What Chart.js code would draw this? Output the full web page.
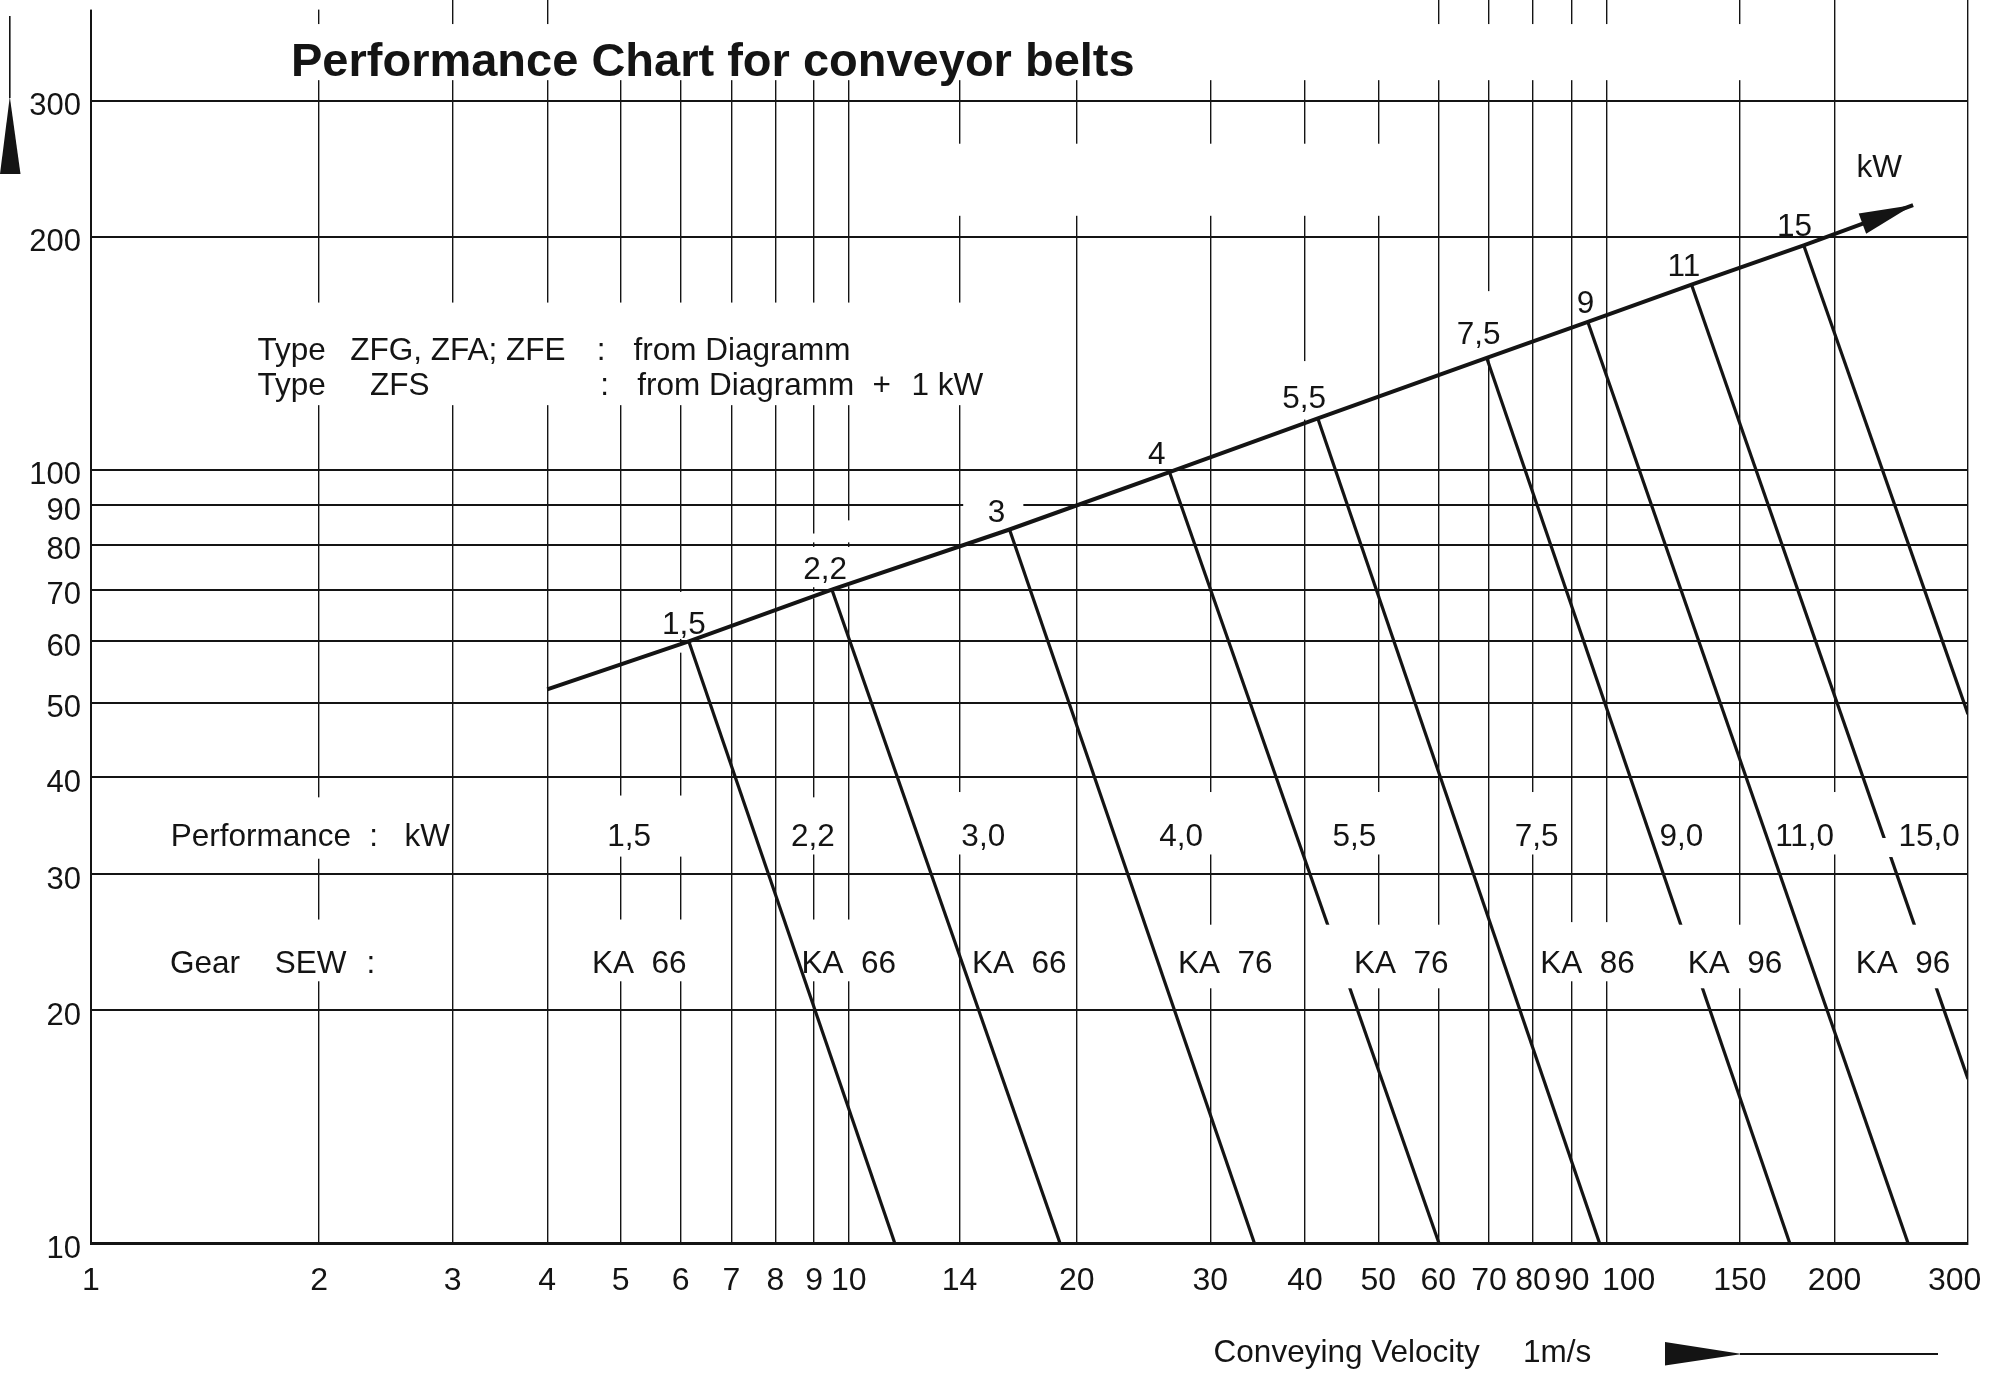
<!DOCTYPE html>
<html>
<head>
<meta charset="utf-8">
<script src="https://cdn.jsdelivr.net/npm/chart.js@4.4.1/dist/chart.umd.min.js"></script>
<style>
  html, body { margin: 0; padding: 0; background: #ffffff; }
  #wrap { width: 2000px; height: 1374px; position: relative; }
</style>
</head>
<body>
<div id="wrap"><canvas id="chart"></canvas></div>
<script>
// ---------------- data ----------------
const X_TICKS = [1, 2, 3, 4, 5, 6, 7, 8, 9, 10, 14, 20, 30, 40, 50, 60, 70, 80, 90, 100, 150, 200, 300];
const X_TICK_LABELS = ['1', '2', '3', '4', '5', '6', '7', '8', '9', '10', '14', '20', '30', '40', '50', '60', '70', '80', '90', '100', '150', '200', '300'];
const Y_TICKS = [10, 20, 30, 40, 50, 60, 70, 80, 90, 100, 200, 300];
const Y_TICK_LABELS = ['10', '20', '30', '40', '50', '60', '70', '80', '90', '100', '200', '300'];

// motor ratings (kW) along the envelope line
const RATINGS = ['1,5', '2,2', '3', '4', '5,5', '7,5', '9', '11', '15'];
// node where each rating line leaves the envelope (velocity, load)
const NODE_VELOCITY = [6.15, 9.5, 16.3, 26.5, 41.6, 69.5, 94.5, 129.5, 182.1];
const NODE_LOAD = [60, 70, 83.7, 99.3, 116.5, 139.5, 155.3, 173.5, 195.1];
// end of each rating line (bottom axis or right border)
const END_VELOCITY = [11.5, 19.0, 34.3, 60.1, 97.9, 174.5, 250, 300, 300];
const END_LOAD = [10, 10, 10, 10, 10, 10, 10, 16.3, 48.3];
// envelope start and arrow tip
const ENVELOPE_START = [4, 52];
const ENVELOPE_TIP = [253.9, 219.9];

const PERF_LABELS = ['1,5', '2,2', '3,0', '4,0', '5,5', '7,5', '9,0', '11,0', '15,0'];
const GEAR_LABELS = ['KA  66', 'KA  66', 'KA  66', 'KA  76', 'KA  76', 'KA  86', 'KA  96', 'KA  96'];

// ---------------- layout / style ----------------
const INK = '#141414';
const FONT = "'Liberation Sans', Arial, Helvetica, sans-serif";
const TXT = 31.5;
// small horizontal nudges of crowded tick labels (spaces keep the label centred off its tick)
const X_LABEL_PAD = { '100': ['     ', ''], '300': ['', '   '] };

// label anchors in data units (velocity, load) — cap-centre positions
const NODE_LABEL_POS = [[6.06, 63.5], [9.31, 74.8], [15.67, 88.4], [25.5, 105.3], [39.9, 124.1], [67.8, 150.2], [93.8, 165], [126.5, 184], [177.1, 207.7]];
const PERF_ROW = { load: 33.7, at: [5.13, 8.97, 15.05, 27.45, 46.5, 80.9, 125.6, 182.6, 266.6] };
const GEAR_ROW = { load: 23.1, at: [5.29, 10.0, 16.79, 31.4, 53.6, 94.4, 147.8, 246.3] };
const NOTES = [
  ['Type', 1.658, 143.5], ['ZFG, ZFA; ZFE', 2.198, 143.5], [':', 4.65, 143.5], ['from Diagramm', 5.2, 143.5],
  ['Type', 1.658, 129.0], ['ZFS', 2.334, 129.0], [':', 4.7, 129.0], ['from Diagramm', 5.26, 129.0], ['+', 10.75, 129.0], ['1 kW', 12.1, 129.0],
  ['Performance', 1.274, 33.7], [':', 2.33, 33.7], ['kW', 2.592, 33.7],
  ['Gear', 1.271, 23.1], ['SEW', 1.748, 23.1], [':', 2.309, 23.1]
];

// interruptions of vertical grid lines (gridline value, load from, load to)
const GRID_GAPS = [];
[1, 2].forEach(v => GRID_GAPS.push([v, 393.6, 5000]));
[2, 3, 4, 60, 70, 80, 90, 100, 150].forEach(v => GRID_GAPS.push([v, 319, 377]));
[5, 6, 7, 8, 9, 10, 14, 20, 30, 40, 50].forEach(v => GRID_GAPS.push([v, 319, 5000]));
[14, 20, 30, 40, 50].forEach(v => GRID_GAPS.push([v, 213, 264]));
[2, 3, 4, 5, 6, 7, 8, 9, 10, 14].forEach(v => GRID_GAPS.push([v, 121.2, 164.5]));
GRID_GAPS.push([40, 116.1, 138.2], [70, 139.5, 170.2], [6, 58, 69.5], [9, 68.2, 82.7], [10, 70.7, 86.0]);
GRID_GAPS.push([2, 31.4, 37.7], [5, 31.6, 37.9], [6, 31.6, 37.9], [9, 31.8, 37.7]);
[14, 30, 50, 80, 200].forEach(v => GRID_GAPS.push([v, 31.8, 38.3]));
[2, 5, 6, 9, 10].forEach(v => GRID_GAPS.push([v, 21.8, 26.2]));
GRID_GAPS.push([30, 21.35, 25.8], [90, 21.8, 26.0], [100, 21.8, 26.0]);
// interruption of horizontal grid line (value, velocity from, velocity to)
const H_GAPS = [[90, 14.16, 17.0]];
// white label boxes drawn over the rating lines (vel lo, vel hi, load lo, load hi)
const OVER_BOXES = [[42.5, 63.0, 21.35, 25.8], [124, 174, 21.35, 25.8], [208.6, 294.4, 21.35, 25.8], [230.4, 294.6, 31.56, 33.4]];

// ---------------- datasets ----------------
const datasets = [];
const envelope = [{ x: ENVELOPE_START[0], y: ENVELOPE_START[1] }];
NODE_VELOCITY.forEach((v, i) => envelope.push({ x: v, y: NODE_LOAD[i] }));
envelope.push({ x: ENVELOPE_TIP[0], y: ENVELOPE_TIP[1] });
datasets.push({ label: 'envelope', data: envelope, showLine: true, borderColor: INK, borderWidth: 4, pointRadius: 0, fill: false, tension: 0 });
RATINGS.forEach((r, i) => {
  datasets.push({
    label: r + ' kW',
    data: [{ x: NODE_VELOCITY[i], y: NODE_LOAD[i] }, { x: END_VELOCITY[i], y: END_LOAD[i] }],
    showLine: true, borderColor: INK, borderWidth: 3.2, pointRadius: 0, fill: false, tension: 0
  });
});

function text(ctx, s, x, yc, size, align, bold) {
  ctx.font = (bold ? 'bold ' : '') + size + 'px ' + FONT;
  ctx.textAlign = align;
  ctx.textBaseline = 'alphabetic';
  ctx.fillStyle = INK;
  ctx.fillText(s, x, yc + 0.358 * size);
}

const decor = {
  id: 'decor',
  beforeDatasetsDraw(chart) {
    const ctx = chart.ctx, xs = chart.scales.x, ys = chart.scales.y;
    const hl = Y_TICKS.map(v => ys.getPixelForValue(v));
    ctx.save();
    ctx.fillStyle = '#ffffff';
    GRID_GAPS.forEach(([v, lo, hi]) => {
      const x = xs.getPixelForValue(v);
      let segs = [[Math.max(-5, ys.getPixelForValue(hi)), ys.getPixelForValue(lo)]];
      hl.forEach(h => {
        const out = [];
        segs.forEach(([a, b]) => {
          if (h + 2.3 <= a || h - 2.3 >= b) { out.push([a, b]); return; }
          if (h - 2.3 > a) out.push([a, h - 2.3]);
          if (h + 2.3 < b) out.push([h + 2.3, b]);
        });
        segs = out;
      });
      segs.forEach(([a, b]) => ctx.fillRect(x - 3, a, 6, b - a));
    });
    H_GAPS.forEach(([val, v0, v1]) => {
      const y = ys.getPixelForValue(val);
      const x0 = xs.getPixelForValue(v0), x1 = xs.getPixelForValue(v1);
      ctx.fillRect(x0, y - 2.6, x1 - x0, 5.2);
    });
    ctx.restore();
  },
  afterDatasetsDraw(chart) {
    const ctx = chart.ctx, xs = chart.scales.x, ys = chart.scales.y;
    const X = v => xs.getPixelForValue(v), Y = v => ys.getPixelForValue(v);
    ctx.save();
    // white boxes that interrupt rating lines
    ctx.fillStyle = '#ffffff';
    OVER_BOXES.forEach(([v0, v1, l0, l1]) => ctx.fillRect(X(v0), Y(l1), X(v1) - X(v0), Y(l0) - Y(l1)));

    // arrow head at the end of the envelope line
    const meta = chart.getDatasetMeta(0).data;
    const tip = meta[meta.length - 1], prev = meta[meta.length - 2];
    const ang = Math.atan2(tip.y - prev.y, tip.x - prev.x);
    const L = 54, W = 10.8;
    const bx = tip.x - L * Math.cos(ang), by = tip.y - L * Math.sin(ang);
    ctx.fillStyle = INK;
    ctx.beginPath();
    ctx.moveTo(tip.x, tip.y);
    ctx.lineTo(bx + W * Math.sin(ang), by - W * Math.cos(ang));
    ctx.lineTo(bx - W * Math.sin(ang), by + W * Math.cos(ang));
    ctx.closePath();
    ctx.fill();

    // labels
    RATINGS.forEach((r, i) => text(ctx, r, X(NODE_LABEL_POS[i][0]), Y(NODE_LABEL_POS[i][1]), TXT, 'center'));
    text(ctx, 'kW', X(229.1), Y(247.6), TXT, 'center');
    PERF_LABELS.forEach((s, i) => text(ctx, s, X(PERF_ROW.at[i]), Y(PERF_ROW.load), TXT, 'center'));
    GEAR_LABELS.forEach((s, i) => text(ctx, s, X(GEAR_ROW.at[i]), Y(GEAR_ROW.load), TXT, 'center'));
    NOTES.forEach(([s, v, l]) => text(ctx, s, X(v), Y(l), TXT, 'left'));

    // title
    ctx.font = 'bold 47px ' + FONT;
    ctx.textAlign = 'left';
    ctx.textBaseline = 'alphabetic';
    ctx.fillStyle = INK;
    ctx.fillText('Performance Chart for conveyor belts', 291, 76);

    // y-axis arrow (left edge)
    ctx.strokeStyle = INK;
    ctx.lineWidth = 1.6;
    ctx.beginPath(); ctx.moveTo(9.8, 16); ctx.lineTo(9.8, 98); ctx.stroke();
    ctx.beginPath(); ctx.moveTo(9.8, 96.7); ctx.lineTo(0, 174); ctx.lineTo(20.5, 174); ctx.closePath(); ctx.fill();

    // x-axis caption with arrow
    ctx.font = TXT + 'px ' + FONT;
    ctx.textAlign = 'left';
    ctx.fillText('Conveying Velocity', 1213.6, 1362);
    ctx.fillText('1m/s', 1523, 1362);
    ctx.beginPath(); ctx.moveTo(1665, 1342); ctx.lineTo(1742, 1354); ctx.lineTo(1665, 1365.5); ctx.closePath(); ctx.fill();
    ctx.lineWidth = 2.2;
    ctx.beginPath(); ctx.moveTo(1740, 1354); ctx.lineTo(1938, 1354); ctx.stroke();
    ctx.restore();
  }
};

Chart.defaults.font.family = FONT;
Chart.defaults.color = INK;

new Chart(document.getElementById('chart'), {
  type: 'scatter',
  data: { datasets },
  options: {
    responsive: true,
    maintainAspectRatio: false,
    animation: false,
    devicePixelRatio: 1,
    layout: { padding: { left: 0, right: 32, top: 0, bottom: 0 } },
    plugins: { legend: { display: false }, tooltip: { enabled: false }, title: { display: false } },
    scales: {
      x: {
        type: 'logarithmic', min: 1, max: 300, position: 'bottom',
        afterBuildTicks: s => { s.ticks = X_TICKS.map(v => ({ value: v })); },
        afterFit: s => { s.height = 131; s.paddingLeft = 0; s.paddingRight = 0; },
        ticks: { autoSkip: false, maxRotation: 0, minRotation: 0, padding: 19, color: INK,
                 font: { size: 32, family: FONT },
                 callback: (v, i) => { const l = X_TICK_LABELS[i], p = X_LABEL_PAD[l]; return p ? p[0] + l + p[1] : l; } },
        grid: { color: INK, lineWidth: 1.4, drawTicks: false },
        border: { display: true, color: INK, width: 3 }
      },
      y: {
        type: 'logarithmic', min: 10, max: 405, position: 'left',
        afterBuildTicks: s => { s.ticks = Y_TICKS.map(v => ({ value: v })); },
        afterFit: s => { s.width = 91; s.paddingTop = 0; s.paddingBottom = 0; },
        ticks: { autoSkip: false, padding: 10, labelOffset: 6, color: INK,
                 font: { size: 31, family: FONT }, callback: (v, i) => Y_TICK_LABELS[i] },
        grid: { color: INK, lineWidth: 2, drawTicks: false },
        border: { display: true, color: INK, width: 2 }
      }
    }
  },
  plugins: [decor]
});
</script>
</body>
</html>
